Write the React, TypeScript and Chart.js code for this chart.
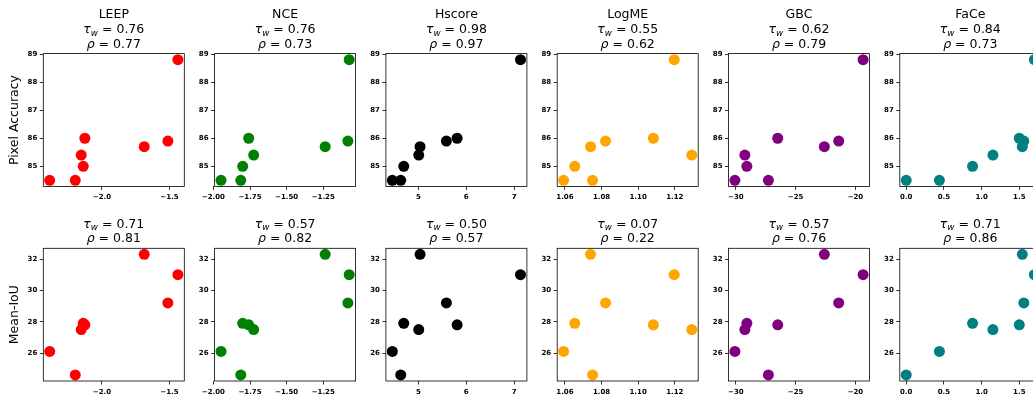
import React, { useEffect, useRef } from 'react';
import { Chart, registerables } from 'chart.js';
Chart.register(...registerables);

// ---------------- data ----------------
const methodNames = ['LEEP', 'NCE', 'Hscore', 'LogME', 'GBC', 'FaCe'];
const rowLabels = ['Pixel Accuracy', 'Mean-IoU'];

// eight models, same order in every array
const pixelAccuracy = [84.5, 84.5, 85.0, 85.4, 85.7, 85.9, 86.0, 88.8];
const meanIoU = [26.1, 24.6, 27.9, 27.5, 32.3, 29.2, 27.8, 31.0];

const leepScores = [-2.386, -2.197, -2.138, -2.153, -1.687, -1.512, -2.126, -1.438];
const nceScores = [-1.948, -1.813, -1.8, -1.725, -1.237, -1.082, -1.759, -1.073];
const hscoreScores = [4.456, 4.632, 4.695, 5.008, 5.036, 5.586, 5.81, 7.134];
const logmeScores = [1.0593, 1.0751, 1.0654, 1.1293, 1.074, 1.0822, 1.1083, 1.1197];
const gbcScores = [-30.08, -27.28, -29.08, -29.25, -22.6, -21.4, -26.5, -19.36];
const faceScores = [0.44, 0.0, 0.88, 1.15, 1.54, 1.56, 1.5, 1.7];

const tauPA = [0.76, 0.76, 0.98, 0.55, 0.62, 0.84];
const rhoPA = [0.77, 0.73, 0.97, 0.62, 0.79, 0.73];
const tauIoU = [0.71, 0.57, 0.5, 0.07, 0.57, 0.71];
const rhoIoU = [0.81, 0.82, 0.57, 0.22, 0.76, 0.86];

const xTickValues = [
  [-2.0, -1.5],
  [-2.0, -1.75, -1.5, -1.25],
  [5, 6, 7],
  [1.06, 1.08, 1.1, 1.12],
  [-30, -25, -20],
  [0.0, 0.5, 1.0, 1.5],
];
const xTickDecimals = [1, 2, 0, 2, 0, 1];
const yTicksPA = [85, 86, 87, 88, 89];
const yTicksIoU = [26, 28, 30, 32];

const allScores = [leepScores, nceScores, hscoreScores, logmeScores, gbcScores, faceScores];

// ---------------- styles ----------------
const seriesColors = ['#ff0000', '#008000', '#000000', '#ffa500', '#800080', '#008080'];
const FONT = '"DejaVu Sans", sans-serif';
const PLOT_W = 141;
const PANEL_STEP = 171.3;
const FIRST_LEFT = 43.3;
const YAXIS_W = 40;
const RIGHT_PAD = 22;
const rowGeom = [
  { canvasTop: 0, plotTop: 53.6, plotBottom: 186.4, height: 207 },
  { canvasTop: 196, plotTop: 248.3, plotBottom: 381, height: 200 },
];

function fmt(v: number, d: number) {
  const s = Math.abs(v).toFixed(d);
  return (v < -1e-12 ? '\u2212' : '') + s;
}

function withMargin(vals: number[]) {
  const mn = Math.min(...vals);
  const mx = Math.max(...vals);
  const m = (mx - mn) * 0.05;
  return [mn - m, mx + m];
}

function drawMath(ctx: CanvasRenderingContext2D, cx: number, baseline: number, sym: string, sub: string | null, rest: string, size: number) {
  const fIt = `italic ${size}px ${FONT}`;
  const fSub = `italic ${size * 0.7}px ${FONT}`;
  const fReg = `${size}px ${FONT}`;
  ctx.font = fIt;
  const w1 = ctx.measureText(sym).width;
  let w2 = 0;
  if (sub) {
    ctx.font = fSub;
    w2 = ctx.measureText(sub).width;
  }
  ctx.font = fReg;
  const w3 = ctx.measureText(rest).width;
  let x = cx - (w1 + w2 + w3) / 2;
  ctx.textAlign = 'left';
  ctx.textBaseline = 'alphabetic';
  ctx.font = fIt;
  ctx.fillText(sym, x, baseline);
  x += w1;
  if (sub) {
    ctx.font = fSub;
    ctx.fillText(sub, x, baseline + size * 0.2);
    x += w2;
  }
  ctx.font = fReg;
  ctx.fillText(rest, x, baseline);
}

const framePlugin = {
  id: 'frame',
  afterDraw(chart: any, _args: any, opts: any) {
    const { ctx, chartArea: a } = chart;
    ctx.save();
    ctx.strokeStyle = '#000';
    ctx.lineWidth = 0.8;
    ctx.strokeRect(a.left, a.top, a.right - a.left, a.bottom - a.top);
    ctx.fillStyle = '#000';
    const cx = (a.left + a.right) / 2;
    const size = 12.5;
    if (opts.name) {
      ctx.font = `${size}px ${FONT}`;
      ctx.textAlign = 'center';
      ctx.textBaseline = 'alphabetic';
      ctx.fillText(opts.name, cx, a.top - 35.4);
    }
    drawMath(ctx, cx, a.top - 20.6, '\u03C4', 'w', ' = ' + opts.tau.toFixed(2), size);
    drawMath(ctx, cx, a.top - 6, '\u03C1', null, ' = ' + opts.rho.toFixed(2), size);
    if (opts.ylabel) {
      ctx.save();
      ctx.translate(opts.ylabelX, (a.top + a.bottom) / 2);
      ctx.rotate(-Math.PI / 2);
      ctx.font = `${size}px ${FONT}`;
      ctx.textAlign = 'center';
      ctx.textBaseline = 'alphabetic';
      ctx.fillText(opts.ylabel, 0, 0);
      ctx.restore();
    }
    ctx.restore();
  },
};

function Panel({ col, row }: { col: number; row: number }) {
  const ref = useRef<HTMLCanvasElement | null>(null);
  const g = rowGeom[row];
  const plotLeft = FIRST_LEFT + col * PANEL_STEP;
  const canvasLeft = Math.floor(plotLeft) - YAXIS_W;
  const padLeft = plotLeft - YAXIS_W - canvasLeft;
  const width = YAXIS_W + Math.ceil(padLeft) + PLOT_W + RIGHT_PAD;
  const padRight = width - (padLeft + YAXIS_W + PLOT_W);
  const padTop = g.plotTop - g.canvasTop;
  const xAxisH = g.height - (g.plotBottom - g.canvasTop);

  useEffect(() => {
    const xs = allScores[col];
    const ys = row === 0 ? pixelAccuracy : meanIoU;
    const [xmin, xmax] = withMargin(xs);
    const [ymin, ymax] = withMargin(ys);
    const xt = xTickValues[col];
    const yt = row === 0 ? yTicksPA : yTicksIoU;
    const dec = xTickDecimals[col];
    const tickFont = { family: FONT, size: 7, weight: 'bold' as const };
    const chart = new Chart(ref.current as HTMLCanvasElement, {
      type: 'scatter',
      data: {
        datasets: [
          {
            data: xs.map((x, i) => ({ x, y: ys[i] })),
            backgroundColor: seriesColors[col],
            borderWidth: 0,
            pointRadius: 5.5,
            pointHoverRadius: 5.5,
            clip: false as any,
          },
        ],
      },
      options: {
        animation: false,
        responsive: false,
        events: [],
        layout: { padding: { top: padTop, left: padLeft, right: padRight, bottom: 0 } },
        plugins: {
          legend: { display: false },
          tooltip: { enabled: false },
          title: { display: false },
          frame: {
            name: row === 0 ? methodNames[col] : null,
            tau: row === 0 ? tauPA[col] : tauIoU[col],
            rho: row === 0 ? rhoPA[col] : rhoIoU[col],
            ylabel: col === 0 ? rowLabels[row] : null,
            ylabelX: 17.5 - canvasLeft,
          },
        } as any,
        scales: {
          x: {
            type: 'linear',
            min: xmin,
            max: xmax,
            border: { display: false },
            grid: { display: true, drawOnChartArea: false, drawTicks: true, tickLength: 3.5, color: '#000', lineWidth: 0.8 },
            ticks: {
              autoSkip: false,
              maxRotation: 0,
              minRotation: 0,
              padding: 3,
              color: '#000',
              font: tickFont,
              callback: (v: any) => fmt(Number(v), dec),
            },
            afterBuildTicks: (s: any) => {
              s.ticks = xt.map((v) => ({ value: v }));
            },
            afterFit: (s: any) => {
              s.height = xAxisH;
              s.paddingLeft = 0;
              s.paddingRight = 0;
              s.paddingTop = 0;
              s.paddingBottom = 0;
            },
          },
          y: {
            type: 'linear',
            min: ymin,
            max: ymax,
            border: { display: false },
            grid: { display: true, drawOnChartArea: false, drawTicks: true, tickLength: 3.5, color: '#000', lineWidth: 0.8 },
            ticks: {
              autoSkip: false,
              padding: 2.5,
              color: '#000',
              font: tickFont,
              callback: (v: any) => fmt(Number(v), 0),
            },
            afterBuildTicks: (s: any) => {
              s.ticks = yt.map((v) => ({ value: v }));
            },
            afterFit: (s: any) => {
              s.width = YAXIS_W;
              s.paddingLeft = 0;
              s.paddingRight = 0;
              s.paddingTop = 0;
              s.paddingBottom = 0;
            },
          },
        },
      },
      plugins: [framePlugin as any],
    });
    return () => chart.destroy();
  }, [col, row]);

  return (
    <canvas
      ref={ref}
      width={width}
      height={g.height}
      style={{ position: 'absolute', left: canvasLeft, top: g.canvasTop, width, height: g.height }}
    />
  );
}

export default function App() {
  const panels: React.ReactNode[] = [];
  for (let row = 0; row < 2; row++) {
    for (let col = 0; col < 6; col++) {
      panels.push(<Panel key={`${row}-${col}`} col={col} row={row} />);
    }
  }
  return (
    <div
      style={{
        position: 'fixed',
        left: 0,
        top: 0,
        width: 1033,
        height: 396,
        overflow: 'hidden',
        background: '#fff',
      }}
    >
      {panels}
    </div>
  );
}
